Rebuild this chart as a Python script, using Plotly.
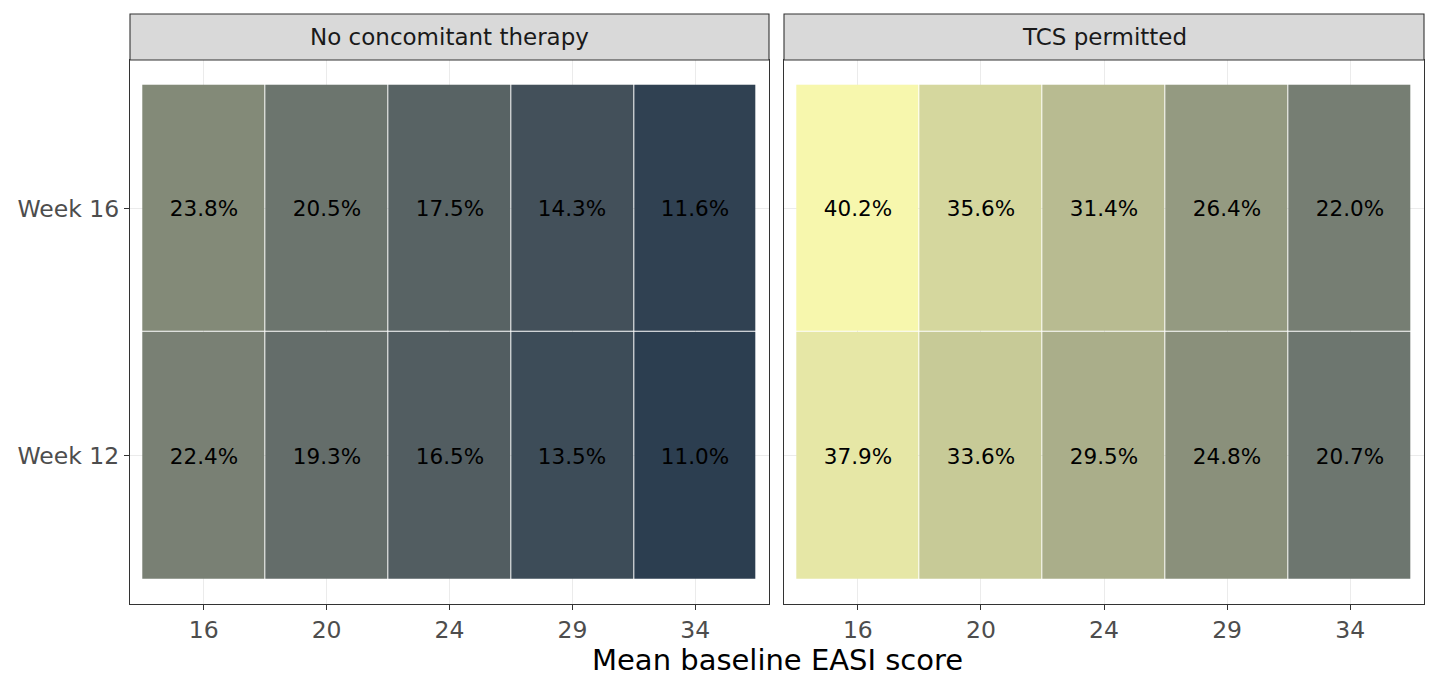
import numpy as np
import plotly.graph_objects as go
from plotly.subplots import make_subplots

scores = ["16", "20", "24", "29", "34"]
weeks = ["Week 12", "Week 16"]
panels = ["No concomitant therapy", "TCS permitted"]
no_ct_w12 = [22.4, 19.3, 16.5, 13.5, 11.0]
no_ct_w16 = [23.8, 20.5, 17.5, 14.3, 11.6]
tcs_w12 = [37.9, 33.6, 29.5, 24.8, 20.7]
tcs_w16 = [40.2, 35.6, 31.4, 26.4, 22.0]
low_col = "#2C3E50"
high_col = "#F7F7AD"

def hex2rgb(h):
    h = h.lstrip("#")
    return np.array([int(h[i:i+2], 16) for i in (0, 2, 4)]) / 255.0

def srgb2lin(c):
    return np.where(c <= 0.04045, c / 12.92, ((c + 0.055) / 1.055) ** 2.4)

def lin2srgb(c):
    c = np.clip(c, 0, 1)
    return np.where(c <= 0.0031308, c * 12.92, 1.055 * c ** (1 / 2.4) - 0.055)

M = np.array([[0.4124, 0.3576, 0.1805], [0.2126, 0.7152, 0.0722], [0.0193, 0.1192, 0.9505]])
Mi = np.linalg.inv(M)
wp = np.array([0.95047, 1.0, 1.08883])

def f(t):
    return np.where(t > (6/29) ** 3, np.cbrt(t), t / (3 * (6/29) ** 2) + 4/29)

def finv(t):
    return np.where(t > 6/29, t ** 3, 3 * (6/29) ** 2 * (t - 4/29))

def rgb2lab(rgb):
    xyz = M @ srgb2lin(rgb) / wp
    fx, fy, fz = f(xyz)
    return np.array([116 * fy - 16, 500 * (fx - fy), 200 * (fy - fz)])

def lab2rgb(lab):
    L, a, b = lab
    fy = (L + 16) / 116
    fx = fy + a / 500
    fz = fy - b / 200
    xyz = finv(np.array([fx, fy, fz])) * wp
    return lin2srgb(Mi @ xyz)

la, lb = rgb2lab(hex2rgb(low_col)), rgb2lab(hex2rgb(high_col))
colorscale = []
for t in np.linspace(0, 1, 21):
    c = lab2rgb(la + (lb - la) * t) * 255
    colorscale.append([float(t), "rgb(%d,%d,%d)" % tuple(np.round(c).astype(int))])

allv = no_ct_w12 + no_ct_w16 + tcs_w12 + tcs_w16
zmin, zmax = min(allv), max(allv)

fig = make_subplots(rows=1, cols=2, shared_yaxes=True)
for i, z in enumerate([[no_ct_w12, no_ct_w16], [tcs_w12, tcs_w16]]):
    fig.add_trace(go.Heatmap(
        x=scores, y=weeks, z=z, coloraxis="coloraxis",
        xgap=1, ygap=1,
        texttemplate="%{z:.1f}%", textfont=dict(size=21.5, color="black", family="DejaVu Sans"),
        hoverinfo="skip"), row=1, col=i + 1)

fig.update_layout(coloraxis=dict(colorscale=colorscale, cmin=zmin, cmax=zmax, showscale=False))

W, H = 1440, 691
xd = [(130 / W, 769 / W), (784 / W, 1424 / W)]
yd = (1 - 604 / H, 1 - 60 / H)
axfont = dict(family="DejaVu Sans", size=23.5, color="#4d4d4d")
for i in range(2):
    xa = "xaxis" if i == 0 else "xaxis2"
    fig.layout[xa].update(domain=xd[i], type="category", range=[-0.6, 4.6],
                          showgrid=True, gridcolor="#ebebeb", gridwidth=1.2,
                          showline=True, linecolor="#333333", linewidth=1.1, mirror=True,
                          ticks="outside", ticklen=5, tickcolor="#333333", tickwidth=1.1,
                          tickfont=axfont, zeroline=False, fixedrange=True)
fig.layout.yaxis.update(domain=yd, type="category", range=[-0.6, 1.6],
                        showgrid=True, gridcolor="#ebebeb", gridwidth=1.2,
                        showline=True, linecolor="#333333", linewidth=1.1, mirror=True,
                        ticks="outside", ticklen=5, tickcolor="#333333", tickwidth=1.1,
                        tickfont=axfont, zeroline=False)
fig.layout.yaxis2.update(domain=yd, range=[-0.6, 1.6],
                         showline=True, linecolor="#333333", linewidth=1.1, mirror=True,
                         showgrid=True, gridcolor="#ebebeb", gridwidth=1.2, ticks="",
                         showticklabels=False, zeroline=False)

for i, name in enumerate(panels):
    fig.add_shape(type="rect", xref="paper", yref="paper",
                  x0=xd[i][0], x1=xd[i][1], y0=yd[1], y1=1 - 14 / H,
                  fillcolor="#d9d9d9", line=dict(color="#333333", width=1.1), layer="above")
    fig.add_annotation(xref="paper", yref="paper", x=(xd[i][0] + xd[i][1]) / 2,
                       y=(yd[1] + 1 - 14 / H) / 2, xanchor="center", yanchor="middle",
                       text=name, showarrow=False,
                       font=dict(family="DejaVu Sans", size=23, color="#1a1a1a"))

fig.add_annotation(xref="paper", yref="paper", x=(130 + 1424) / 2 / W, y=1 - 660 / H,
                   xanchor="center", yanchor="middle",
                   text="Mean baseline EASI score", showarrow=False,
                   font=dict(family="DejaVu Sans", size=29, color="black"))

fig.update_layout(width=W, height=H, margin=dict(l=0, r=0, t=0, b=0),
                  plot_bgcolor="white", paper_bgcolor="white", showlegend=False)
fig.write_html("out.html", config={"displayModeBar": False},
               post_script="document.body.style.margin='0';document.body.style.overflow='hidden';")
